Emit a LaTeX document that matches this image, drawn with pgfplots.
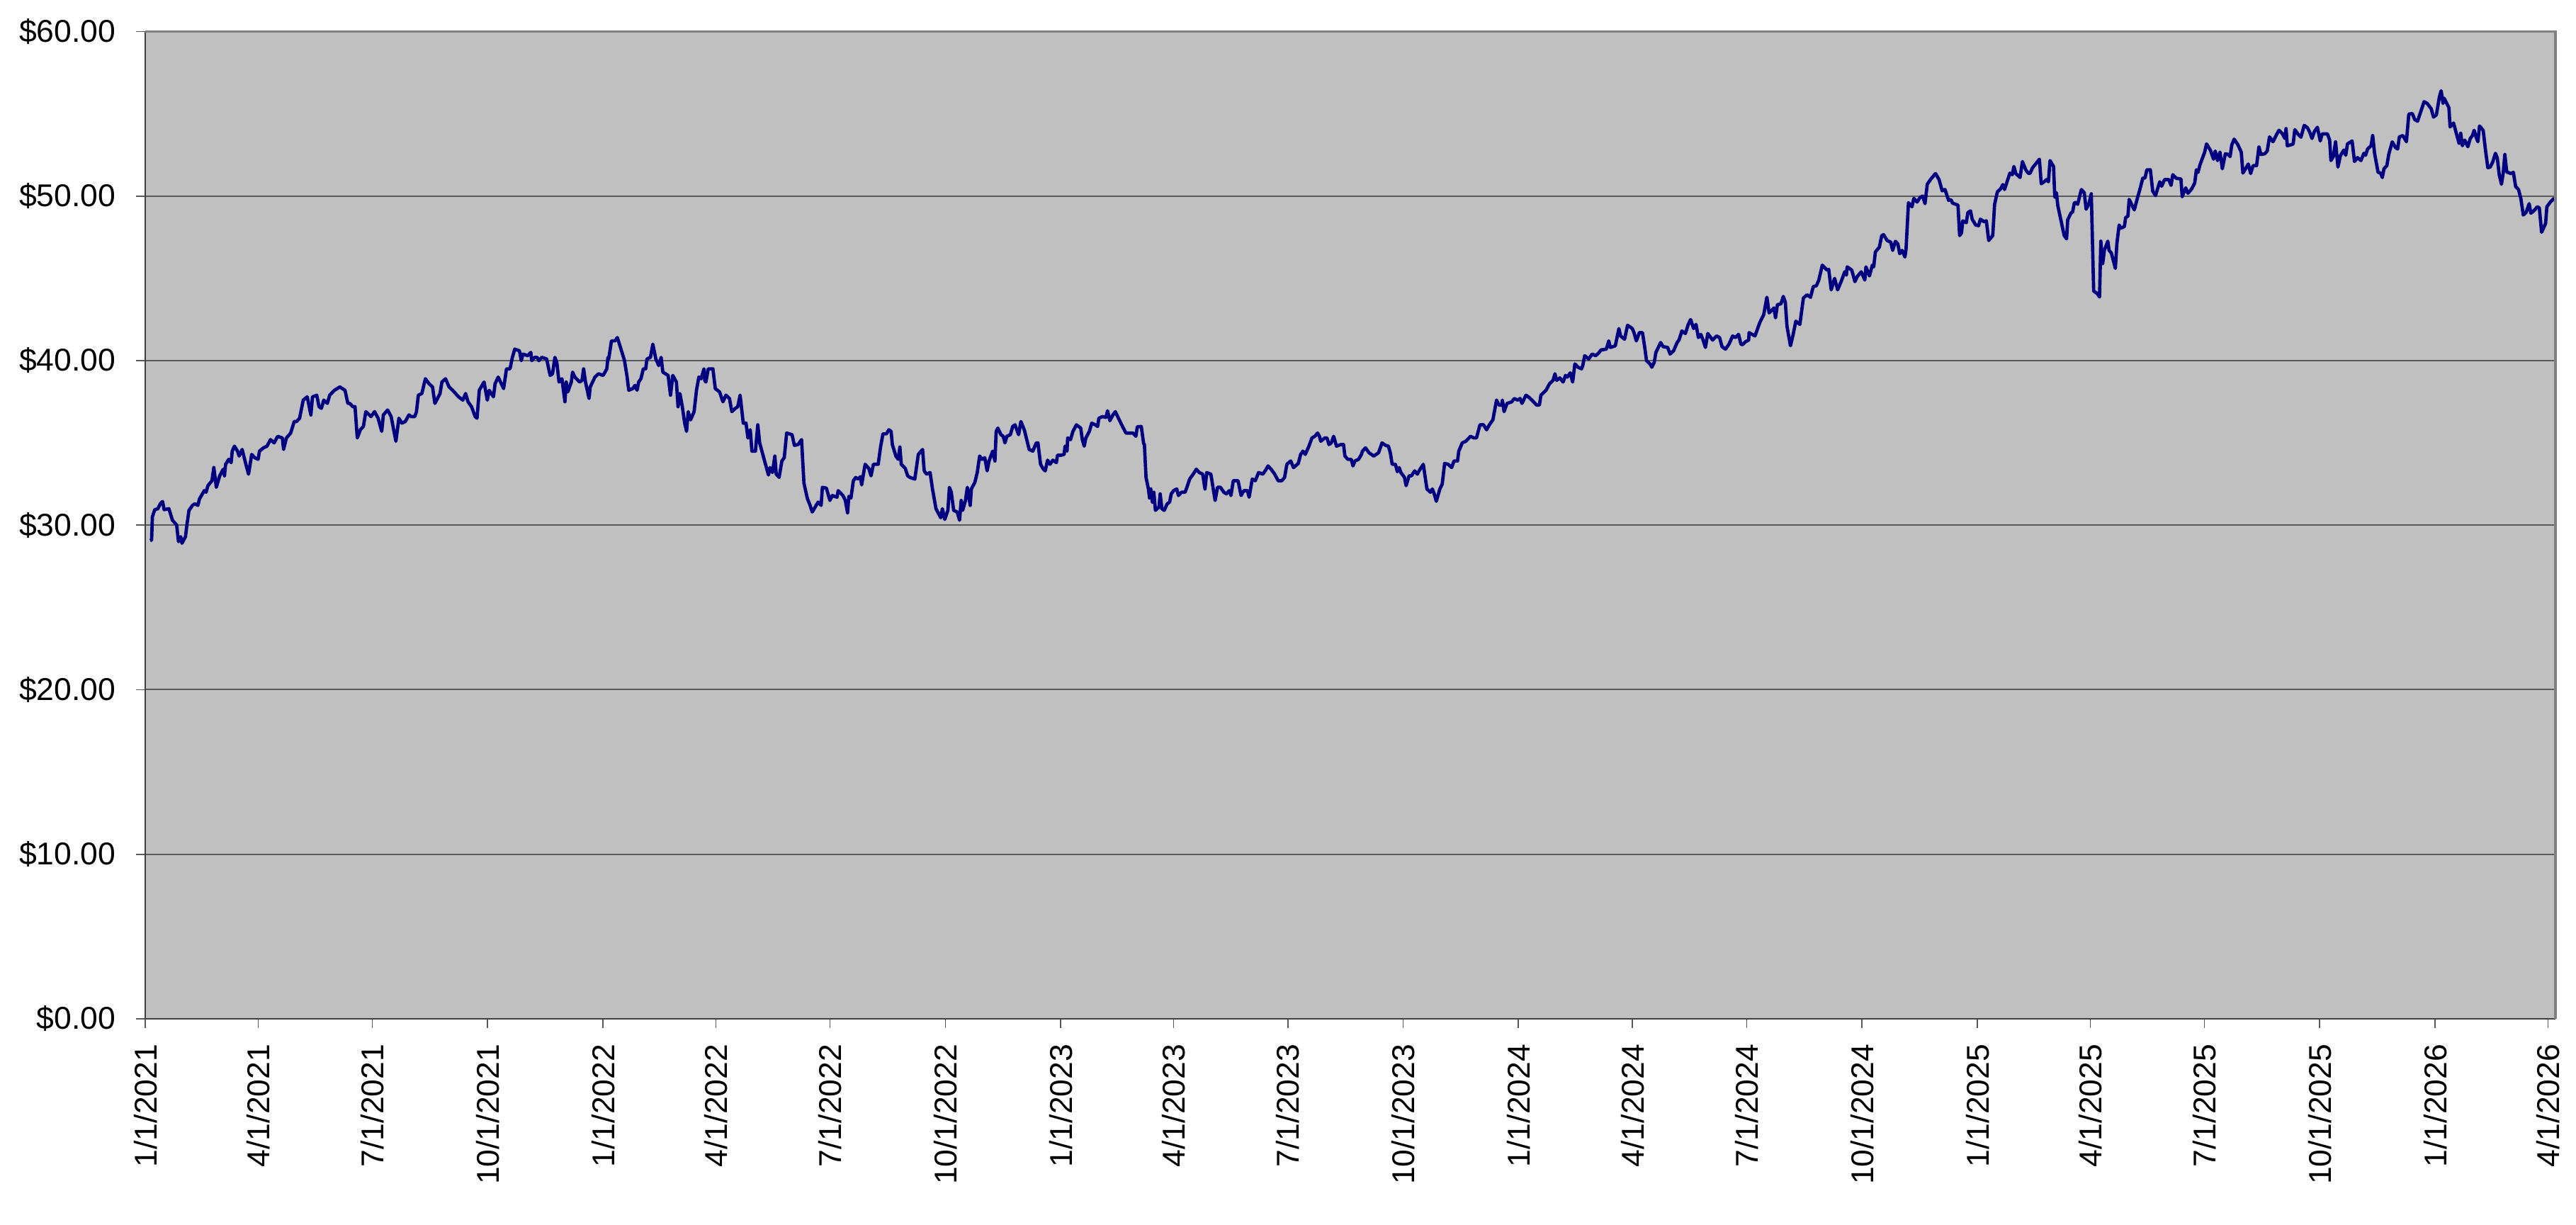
\documentclass[border=0pt]{standalone}
\usepackage{fontspec}
\setmainfont{Liberation Sans}
\usepackage{pgfplots}
\pgfplotsset{compat=1.18}
\definecolor{bgc}{RGB}{192,192,192}
\definecolor{linec}{RGB}{0,0,128}
\definecolor{gridc}{RGB}{90,90,90}
\definecolor{framec}{RGB}{128,128,128}
\begin{document}
\begin{tikzpicture}
\useasboundingbox (-46.1pt,-65.2pt) rectangle (770.9pt,323.1pt);
\begin{axis}[name=ax,
 scale only axis, width=764.4pt, height=313.1pt,
 xmin=0, xmax=1922, ymin=0, ymax=60,
 axis background/.style={fill=bgc},
 axis x line*=bottom, axis y line*=left,
 axis line style={draw=black!75, line width=0.55pt},
 tick align=outside, major tick length=2.9pt,
 tick style={draw=black!65, line width=0.4pt},
 ytick={0,10,...,60},
 yticklabels={\$0.00,\$10.00,\$20.00,\$30.00,\$40.00,\$50.00,\$60.00},
 xtick={0,90,181,273,365,455,546,638,730,820,911,1003,1095,1186,1277,1369,1461,1551,1642,1734,1826,1916},
 xticklabels={1/1/2021,4/1/2021,7/1/2021,10/1/2021,1/1/2022,4/1/2022,7/1/2022,10/1/2022,1/1/2023,4/1/2023,7/1/2023,10/1/2023,1/1/2024,4/1/2024,7/1/2024,10/1/2024,1/1/2025,4/1/2025,7/1/2025,10/1/2025,1/1/2026,4/1/2026},
 xticklabel style={rotate=90, anchor=east, inner xsep=5pt},
 yticklabel style={inner xsep=6.3pt},
 ticklabel style={font=\fontsize{10}{12}\selectfont},
 ymajorgrids, grid style={draw=gridc, line width=0.45pt},
 minor tick num=0,
]
\addplot[linec, line width=1.05pt, line join=round] coordinates {
(3.8,29.06)(5,29.1)(5.6,30.5)(7.5,30.94)(10,31.0)(11.9,31.3)(13.7,31.44)(15,30.94)(18.8,31.0)(21.6,30.3)(25,30.0)(26.4,29.0)(28.2,29.3)(29.2,28.9)(32,29.3)(33.3,30.1)(34.8,30.9)(37.6,31.2)(39.5,31.3)(41.9,31.2)(43.2,31.6)(47,32.1)(48.4,32.0)(49.9,32.4)(53.1,32.7)(54.6,33.5)(56.6,32.3)(59.3,33.0)(62.1,33.4)(63.1,33.0)(64,33.7)(66.5,34.0)(68.4,33.8)(69.3,34.5)(71,34.8)(73.5,34.5)(74.8,34.2)(77.2,34.6)(80,33.75)(82.3,33.1)(84.8,34.3)(87.2,34.1)(89.9,34.0)(91,34.5)(94.2,34.7)(97,34.8)(99.8,35.2)(102.7,35.0)(105.5,35.4)(109.3,35.3)(110.2,34.6)(112.5,35.3)(115.9,35.6)(118.7,36.3)(120.6,36.3)(123,36.5)(125.9,37.6)(129.1,37.8)(132,36.7)(133.3,37.8)(136.7,37.9)(138.5,37.2)(140.4,37.1)(142.3,37.6)(145.1,37.4)(147,37.9)(150.8,38.2)(155.1,38.4)(159.2,38.2)(161.5,37.4)(163,37.4)(165.5,37.2)(167.2,37.2)(169,35.3)(171.5,35.8)(173.9,36.0)(175.8,36.9)(180,36.6)(182.8,36.9)(185.6,36.5)(188.5,35.7)(189.8,36.7)(193.2,37.0)(196,36.6)(199.8,35.1)(202.2,36.5)(204.5,36.2)(207.3,36.3)(210.2,36.7)(212,36.6)(214.9,36.6)(216.2,36.9)(217.7,37.9)(220.5,38.0)(223.3,38.9)(226.2,38.6)(229,38.4)(230.9,37.4)(235,38.0)(236.5,38.7)(239.4,38.9)(242.2,38.4)(245,38.2)(249.8,37.8)(253.2,37.6)(255.4,38.0)(257.3,37.5)(260.1,37.2)(263,36.6)(264.5,36.5)(266.3,38.2)(270.1,38.7)(272.7,37.6)(274.2,38.2)(277.6,37.8)(278.9,38.6)
(281.4,39.0)(285.7,38.3)(288,39.5)(290.8,39.5)(292.7,40.2)(294.6,40.7)(298.3,40.6)(299.8,40.0)(301.1,40.4)(304.9,40.3)(307.4,40.5)(308.1,40.0)(310.5,40.2)(312.4,40.2)(313.8,40.0)(316.2,40.2)(320,40.1)(322.8,39.1)(324.7,39.2)(326.6,40.2)(328.1,39.9)(329.9,38.7)(332.2,38.9)(334.6,37.5)(335.6,38.7)(336.9,38.1)(339.7,38.7)(340.7,39.3)(342.5,39.0)(346.3,38.7)(348.2,38.8)(349.5,39.5)(351,38.7)(353.8,37.7)(354.8,38.4)(358.5,39.0)(361.4,39.2)(365.1,39.1)(368,39.5)(368.9,40.2)(369.5,40.1)(371.7,41.2)(374.5,41.2)(376.4,41.4)(379.3,40.7)(382.1,40.0)(384,39.1)(385.5,38.2)(388.7,38.3)(390.5,38.5)(392.1,38.2)(393.4,38.7)(395.2,38.9)(397.1,39.5)(399,39.5)(400,40.1)(402.8,40.2)(404.7,41.0)(407.1,40.1)(409.4,39.7)(411.3,40.2)(412.7,39.3)(416.9,39.1)(418.8,37.9)(420.6,39.1)(423.5,38.7)(424.8,37.2)(426.3,38.0)(428.2,37.2)(430.1,36.2)(431.6,35.7)(432.9,36.9)(434.8,36.4)(437.6,36.9)(439.5,38.2)(441.4,39.0)(443.2,38.9)(445.5,39.5)(446.1,38.8)(447,38.7)(448.9,39.5)(452.6,39.5)(454.5,38.3)(457.9,38.1)(460.6,37.5)(463,37.9)(465.8,37.7)(467.7,36.9)(470.5,37.1)(472.4,37.2)(474.3,37.9)(476.8,36.2)(479,36.2)(480.5,35.3)(482.4,35.8)(483.7,34.5)(486.5,34.5)(488.4,36.1)(489.9,35.0)(493.1,34.1)(496.9,33.05)(498.2,33.5)(500.1,33.2)(502,34.2)(503.1,33.1)(505.4,32.9)(507.6,33.9)(509.5,34.1)(511.4,35.6)(515.7,35.5)(517.6,34.85)(520.5,34.9)(523.3,35.2)(525.2,32.55)(528,31.6)(529.9,31.25)(531.8,30.8)(536.5,31.4)(538.9,31.2)(539.9,32.3)(543.1,32.25)(545.9,31.5)(547.8,31.8)(551.6,31.7)(552.5,32.1)(556.3,31.8)(558.2,31.5)(560,30.75)(561,31.75)
(562.7,31.65)(564.6,32.7)(566.5,32.9)(568.4,32.8)(570.3,32.95)(571.2,32.45)(574,33.7)(576.9,33.45)(578.7,33.0)(580.6,33.7)(584.4,33.7)(586.3,34.75)(588.2,35.55)(591,35.55)(592.9,35.8)(594.7,35.7)(595.7,34.9)(598.5,34.2)(600.4,34.0)(601.7,34.75)(602.8,33.7)(606,33.45)(607.9,33.0)(609.8,32.9)(613.6,32.8)(616.4,34.3)(619.8,34.6)(621.1,33.3)(623,33.1)(625.8,33.2)(627.7,32.2)(630.5,31.0)(634.3,30.45)(635.6,31.0)(637.5,30.35)(640,30.9)(641.2,32.3)(642.7,32.0)(644.6,30.9)(647.4,30.8)(649.3,30.3)(650.6,31.5)(651.8,30.9)(654,31.5)(655.5,32.3)(657.8,31.2)(658.7,32.2)(661.5,32.6)(663.4,33.2)(665.3,34.2)(667.2,34.0)(669.4,34.1)(671.3,33.3)(672.8,33.9)(675.7,34.5)(677.5,33.9)(678.5,35.7)(679.8,35.9)(682.3,35.5)(684.1,35.4)(685.5,35.0)(687,35.4)(689.8,35.5)(691.7,36.0)(693.5,36.1)(696.4,35.5)(698.2,36.3)(701.1,35.75)(704.8,34.6)(707.7,34.5)(710.5,35.0)(711.8,35.0)(713.9,33.7)(715.7,33.45)(717.6,33.3)(719.5,33.95)(721.4,33.7)(723.7,33.95)(726.5,33.8)(727.4,34.25)(730.2,34.25)(732.7,34.3)(733.4,34.8)(735,34.5)(735.5,35.3)(737.8,35.2)(739.7,35.7)(742.5,36.1)(745.9,35.9)(747.2,35.2)(748.7,34.8)(750,35.3)(752.8,35.7)(754.7,36.2)(757.5,36.1)(759.4,36.0)(760.4,36.5)(763.2,36.6)(766,36.55)(767.3,36.95)(769.2,36.35)(771.6,36.7)(773.5,36.9)(775.4,36.6)(777.3,36.3)(779.2,36.0)(782,35.6)(784.8,35.6)(787.6,35.6)(789.9,35.4)(791,35.97)(794.2,36.0)(796.1,34.96)(796.7,34.9)(798,32.9)(799.9,32.2)(800.8,31.65)(801.8,32.2)(803.1,31.4)(804.2,32.0)(805.5,30.9)(808.3,31.1)(809.3,31.9)(810.6,31.0)(812.5,30.9)(814.9,31.3)(816.8,31.4)(818.1,31.9)(820,32.1)(822.5,32.2)(823.8,31.8)(826.2,32.0)(829.1,32.0)(830.6,32.3)(832.8,32.8)(835.6,33.1)(838.1,33.4)(840.4,33.2)(843.2,33.1)
(845,32.2)(846.4,33.2)(849.7,33.1)(853.1,31.5)(855,32.3)(857.3,32.3)(860.1,32.0)(862,31.9)(864.4,32.1)(865.7,31.8)(867.6,32.7)(871.4,32.7)(873.8,31.8)(876.1,32.1)(878.9,32.1)(880.2,31.7)(882.7,32.8)(885.1,32.7)(887.8,33.2)(891.1,33.1)(893,33.3)(895.3,33.6)(897.7,33.4)(900.6,33.1)(903.4,32.7)(906.2,32.7)(908.5,32.9)(910.3,33.7)(913.4,33.9)(915.6,33.5)(919.4,33.75)(921.3,34.3)(923.1,34.5)(925,34.3)(927.9,34.8)(930.3,35.3)(932.6,35.4)(934.8,35.6)(936.3,35.4)(937.3,35.1)(940.5,35.3)(942.3,35.3)(943.9,34.9)(945.7,35.0)(947.6,35.4)(949.9,34.8)(953.3,34.9)(955.5,34.9)(956.6,34.2)(958.9,34.0)(961.7,34.0)(963,33.6)(964.6,33.9)(967.4,34.0)(969.8,34.3)(970.6,34.5)(973,34.7)(975.8,34.4)(979.6,34.2)(983.4,34.4)(986.2,35.0)(989,34.85)(991.3,34.8)(992.8,34.4)(994.3,33.7)(996.9,33.7)(998.4,33.25)(999.9,33.5)(1001.2,33.2)(1004.1,32.9)(1005.4,32.4)(1007.8,33.0)(1009.7,33.0)(1012.2,33.3)(1014.4,33.1)(1015.7,33.3)(1019.1,33.7)(1022,32.2)(1024.8,32.0)(1026.3,32.2)(1027.6,31.95)(1029.5,31.45)(1032.3,32.2)(1034.2,32.5)(1036.1,33.75)(1038.9,33.7)(1041.7,33.5)(1043.6,33.9)(1046.4,33.9)(1047.4,34.5)(1050.2,35.0)(1053,35.1)(1056.8,35.4)(1059.6,35.3)(1061.5,35.3)(1064.3,36.1)(1067.1,36.1)(1069.6,35.8)(1071.8,36.1)(1074.6,36.4)(1077.5,37.6)(1079.4,37.3)(1081.6,37.3)(1082.2,37.6)(1083.5,36.9)(1085.9,37.4)(1089.7,37.5)(1091.6,37.7)(1094.4,37.6)(1096.3,37.7)(1097.8,37.4)(1101,37.9)(1102.9,37.8)(1105.7,37.6)(1109.5,37.3)(1111.7,37.3)(1112.9,37.9)(1117,38.2)(1119.8,38.6)(1122.6,38.8)(1124.1,39.2)(1125.5,38.8)
(1128,38.95)(1130.6,38.7)(1132.5,39.1)(1134,39.0)(1136.3,39.26)(1138.2,38.7)(1140,39.8)(1142.5,39.6)(1145.3,39.5)(1146.3,39.7)(1147.8,40.3)(1151,40.1)(1153.8,40.4)(1156.6,40.3)(1159.4,40.5)(1160.8,40.65)(1165.1,40.7)(1167,41.2)(1168.3,40.8)(1172.2,40.9)(1175.1,41.95)(1176.4,41.5)(1179.6,41.3)(1182,42.15)(1185.8,41.95)(1187.1,41.7)(1189,41.2)(1191.4,41.7)(1193.9,41.7)(1195.8,40.75)(1197.1,40.0)(1199.9,39.8)(1201.4,39.6)(1203.3,39.9)(1204.6,40.5)(1208.4,41.1)(1210.3,40.85)(1214,40.8)(1215.9,40.4)(1218.7,40.6)(1221.5,41.1)(1223,41.25)(1225.3,41.8)(1228.1,41.65)(1230.4,42.2)(1232.3,42.5)(1234.7,41.95)(1236.6,42.2)(1238.5,41.4)(1240.4,41.6)(1242.2,41.25)(1244.1,40.8)(1246,41.65)(1249.8,41.25)(1253,41.5)(1255.4,41.4)(1257.3,40.85)(1260.1,40.7)(1262.9,41.0)(1265.8,41.5)(1268,41.4)(1270.5,41.6)(1272.4,41.0)(1273.7,40.97)(1276.1,41.15)(1278.6,41.25)(1278.9,41.7)(1283.6,41.5)(1287.4,42.3)(1290.6,42.8)(1293.1,43.85)(1294.9,42.9)(1298.7,43.2)(1300,42.6)(1301.5,43.4)(1304.3,43.45)(1306.2,43.9)(1307.8,43.55)(1309.1,42.1)(1311.9,40.9)(1313.8,41.5)(1316.2,42.4)(1319.4,42.2)(1322.2,43.8)(1325.1,44.0)(1327.9,43.85)(1330.1,44.5)(1332.6,44.55)(1334.5,44.9)(1337.3,45.8)(1341.1,45.5)(1342.4,45.55)(1344.4,44.3)(1347.1,45.0)(1349.5,44.3)(1352.3,44.8)(1355.2,45.4)(1356.5,45.2)(1357.1,45.7)(1360.8,45.5)(1363.3,44.8)(1365.1,45.1)(1368.3,45.4)(1371.2,44.9)(1372.1,45.7)(1374.9,45.15)(1377.2,45.8)(1378.3,45.7)(1379.6,46.6)(1382.8,46.9)(1384.7,47.6)(1386.2,47.65)(1389,47.3)(1391.9,47.2)(1393.4,46.7)(1395.6,47.25)(1397.5,47.1)(1399,46.5)(1400.9,46.7)(1403.2,46.3)(1404.1,46.8)(1406,49.6)
(1408.8,49.35)(1410.3,49.86)(1412.9,49.64)(1415.4,49.93)(1417.3,50.0)(1419.2,49.54)(1421,50.72)(1423.9,51.04)(1427.6,51.37)(1430.4,51.0)(1432.9,50.32)(1435.1,50.4)(1438,49.74)(1439.9,49.78)(1441.2,49.57)(1445.5,49.45)(1446.8,47.6)(1448.3,47.76)(1449.3,48.5)(1452.1,48.38)(1453.4,49.0)(1455.5,49.1)(1456.8,48.6)(1459.6,48.24)(1461.9,48.2)(1463.4,48.6)(1466.2,48.44)(1468.1,48.5)(1470,47.3)(1473.2,47.6)(1474.7,49.5)(1476.9,50.26)(1479.4,50.43)(1481.3,50.7)(1482.6,50.4)(1484.1,50.75)(1486.9,51.4)(1488.8,51.3)(1490.1,51.8)(1491.6,51.37)(1495,51.13)(1496.9,52.1)(1499.5,51.6)(1501.4,51.4)(1502.9,51.37)(1504.8,51.7)(1510.4,52.24)(1511.9,50.75)(1514.2,50.87)(1516.1,51.0)(1517.6,50.87)(1518.9,52.16)(1521.7,51.8)(1522.7,49.93)(1524,50.2)(1525.1,49.42)(1530.2,47.6)(1532.1,47.4)(1533,48.56)(1535.8,49.0)(1536.8,49.0)(1538.3,49.6)(1539.6,49.6)(1540.9,49.5)(1543.9,50.4)(1546.2,50.2)(1547.7,49.2)(1549.9,49.54)(1551.8,50.14)(1553.7,44.23)(1556.5,44.08)(1558.4,43.87)(1559.4,47.26)(1560.9,45.9)(1562.2,46.7)(1565,47.26)(1566,46.7)(1567.8,46.54)(1571,45.6)(1572.2,47.1)(1574,48.24)(1575.4,48.05)(1578.2,48.15)(1579.2,48.7)(1581,48.77)(1582,49.8)(1586.1,49.16)(1588.5,49.86)(1590.4,50.36)(1592.9,51.1)(1594.7,51.1)(1596.1,51.6)(1598.9,51.6)(1600.8,50.3)(1603,50.03)(1606.4,50.87)(1607.9,50.6)(1610.2,51.0)(1613.6,51.0)(1615.4,50.65)(1616.8,51.3)(1619.6,51.08)(1623.3,51.04)(1624.3,49.96)(1627.1,50.5)(1628.9,50.17)(1631.8,50.43)(1634.3,50.8)(1635.6,51.6)(1636.9,51.44)(1638.4,51.88)(1642.2,52.67)(1643.7,53.17)(1646.9,52.77)(1649.3,52.24)(1650.6,52.74)(1652.5,52.16)(1654.4,52.67)(1656.3,51.66)(1658.7,52.57)(1661,52.53)(1662.5,52.4)(1663.8,53.1)(1665.7,53.46)(1668.5,53.15)(1671.4,52.67)(1672.7,51.4)(1675.1,51.7)(1677,51.95)(1678.9,51.37)(1680.8,51.85)(1683.6,51.85)(1685.5,53.0)(1687,52.53)(1690.1,52.57)(1692.1,52.74)(1693.9,53.6)(1696.7,53.3)(1699.6,53.75)
(1701.5,54.0)(1704.3,53.78)(1706.2,53.5)(1707.1,54.1)(1708.1,53.06)(1710.3,53.1)(1712.8,53.17)(1714.1,54.04)(1716.5,53.78)(1719,53.58)(1721.6,54.3)(1724.1,54.16)(1725.9,53.9)(1727.8,53.5)(1729.7,53.92)(1732.1,54.18)(1734.4,53.35)(1735.9,53.78)(1740.1,53.78)(1741.9,53.4)(1742.9,52.16)(1744.8,52.4)(1746.6,53.3)(1748.5,51.76)(1750.4,52.45)(1753.2,52.8)(1754.7,52.48)(1756.1,53.17)(1759.8,53.35)(1761.7,52.1)(1764.1,52.34)(1766.8,52.16)(1769.2,52.6)(1770.5,52.48)(1772.1,52.86)(1774.9,53.06)(1776.2,53.68)(1777.7,52.6)(1780.5,51.44)(1782.4,51.41)(1783.9,51.13)(1785.2,51.66)(1787.5,51.85)(1789,52.53)(1791.8,53.3)(1794.3,52.96)(1796.1,52.86)(1797.5,53.6)(1800.3,53.68)(1803.1,53.3)(1805,54.98)(1807.8,55.02)(1809.7,54.65)(1812,54.55)(1813.5,54.9)(1817.2,55.74)(1819.7,55.63)(1822.9,55.3)(1824.7,54.8)(1827,54.94)(1829.4,56.03)(1830.8,56.4)(1832.3,55.63)(1833.2,55.95)(1837,55.37)(1837.9,54.2)(1840.7,54.44)(1842.6,53.9)(1845.1,53.2)(1846.4,53.82)(1847.7,53.06)(1849.6,53.4)(1852.1,53.0)(1854,53.5)(1855.8,53.68)(1857.1,54.0)(1858.6,53.6)(1860.1,53.3)(1861.4,54.26)(1864.3,54.0)(1866.2,52.77)(1868,51.73)(1869.9,51.76)(1871.8,52.05)(1874.1,52.6)(1875.6,52.3)(1877.1,51.3)(1878.9,50.72)(1880.3,51.41)(1881.6,52.53)(1883.1,51.47)(1886.5,51.37)(1888.4,51.44)(1890.2,50.58)(1892.5,50.4)(1894.4,49.83)(1896.3,48.85)(1898.5,49.0)(1901,49.54)(1902.3,48.96)(1904.7,49.1)(1907.5,49.35)(1909.1,49.28)(1910.9,47.8)(1914.1,48.34)(1915.1,49.35)(1917.9,49.64)(1921.1,49.88)
};
\end{axis}
\draw[framec, line width=0.8pt] (ax.north west) -- (ax.north east) -- (ax.south east);
\end{tikzpicture}
\end{document}
